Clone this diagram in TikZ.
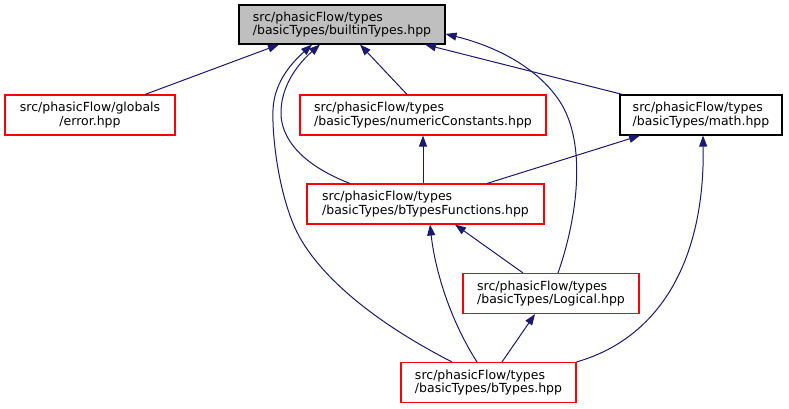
\documentclass[tikz,border=0pt]{standalone}
\usepackage{fontspec}
\setmainfont{DejaVu Sans}
\usetikzlibrary{arrows.meta}
\definecolor{edgecol}{HTML}{191970}
\definecolor{boxgray}{HTML}{BFBFBF}
\definecolor{boxred}{HTML}{FF0000}
\begin{document}
\begin{tikzpicture}[x=1pt,y=-1pt,
  box/.style={draw=boxred, line width=1.1pt, fill=white, minimum height=40pt, inner sep=0pt, align=left,
              font=\fontsize{12.5}{13.5}\selectfont},
  cbox/.style={box, align=center},
  blackbox/.style={box, draw=black},
  graybox/.style={box, draw=black, fill=boxgray},
  edge/.style={draw=edgecol, line width=1pt, -{Triangle[length=11pt,width=8pt]}}
]
\useasboundingbox[fill=white] (0,0) rectangle (789,409);

\node[graybox, minimum width=206pt, minimum height=39pt] (bt) at (342,24.5) {src/phasicFlow/types\\/basicTypes/builtinTypes.hpp};
\node[cbox, minimum width=170pt] (err) at (90,115) {src/phasicFlow/globals\\/error.hpp};
\node[box, minimum width=246pt] (nc) at (423,115) {src/phasicFlow/types\\/basicTypes/numericConstants.hpp};
\node[blackbox, minimum width=162pt] (mth) at (701,115) {src/phasicFlow/types\\/basicTypes/math.hpp};
\node[box, minimum width=237pt] (btf) at (425.5,204) {src/phasicFlow/types\\/basicTypes/bTypesFunctions.hpp};
\node[box, minimum width=176pt] (logical) at (551,293.5) {src/phasicFlow/types\\/basicTypes/Logical.hpp};
\node[box, minimum width=175pt] (bty) at (488.5,382.5) {src/phasicFlow/types\\/basicTypes/bTypes.hpp};

% edges to builtinTypes
\draw[edge] ([xshift=55pt]err.north) -- ([xshift=-63pt]bt.south);
\draw[edge] ([xshift=-16pt]nc.north) -- ([xshift=18pt]bt.south);
\draw[edge] ([xshift=3pt]mth.north west) -- ([xshift=83pt]bt.south);
\draw[edge] ([xshift=-75.5pt]btf.north) .. controls (320,172) and (283,150) .. (281,115)
            .. controls (280,85) and (300,62) .. ([xshift=-22pt]bt.south);
\draw[edge] ([xshift=-36.5pt]bty.north) .. controls (370,320) and (315,272) .. (295,228)
            .. controls (278,190) and (272,135) .. (273,110)
            .. controls (274,80) and (295,60) .. ([xshift=-30pt]bt.south);
\draw[edge] ([xshift=7pt]logical.north) .. controls (575,225) and (588,150) .. (562,105)
            .. controls (540,68) and (495,46) .. ([yshift=-9.5pt]bt.east);

% other edges
\draw[edge] (btf.north -| nc.south) -- (nc.south);
\draw[edge] ([xshift=61.5pt]btf.north) -- ([xshift=-61pt]mth.south);
\draw[edge] ([xshift=-28pt]logical.north) -- ([xshift=29.5pt]btf.south);
\draw[edge] ([xshift=-11.5pt]bty.north) .. controls (450,320) and (435,270) .. ([xshift=4.5pt]btf.south);
\draw[edge] ([xshift=13.5pt]bty.north) -- ([xshift=-16pt]logical.south);
\draw[edge] (bty.north east) .. controls (660,338) and (705,260) .. ([xshift=2pt]mth.south);
\end{tikzpicture}
\end{document}
